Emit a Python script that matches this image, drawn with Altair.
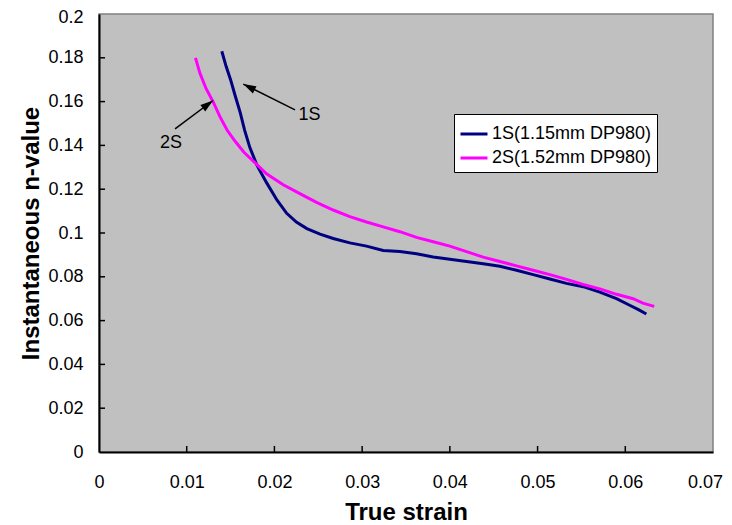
import altair as alt
import pandas as pd

# ---- data ----
s1_name = "1S(1.15mm DP980)"
s1_x = [0.0140, 0.0145, 0.0150, 0.0155, 0.0161, 0.0166, 0.0172, 0.0180, 0.0191, 0.0203,
        0.0214, 0.0225, 0.0237, 0.0252, 0.0267, 0.0286, 0.0305, 0.0324, 0.0343, 0.0362,
        0.0381, 0.0400, 0.0419, 0.0438, 0.0457, 0.0476, 0.0495, 0.0514, 0.0533, 0.0552,
        0.0571, 0.0590, 0.0605, 0.0615, 0.0624]
s1_y = [0.183, 0.176, 0.170, 0.163, 0.155, 0.147, 0.139, 0.131, 0.123, 0.115,
        0.109, 0.105, 0.102, 0.0995, 0.0975, 0.0955, 0.094, 0.092, 0.0915, 0.0905,
        0.089, 0.088, 0.087, 0.086, 0.0848, 0.083, 0.081, 0.079, 0.077, 0.0755,
        0.073, 0.070, 0.067, 0.065, 0.063]

s2_name = "2S(1.52mm DP980)"
s2_x = [0.0110, 0.0115, 0.0122, 0.0130, 0.0138, 0.0146, 0.0155, 0.0165, 0.0178, 0.0191,
        0.0210, 0.0229, 0.0248, 0.0267, 0.0286, 0.0305, 0.0324, 0.0343, 0.0362, 0.0381,
        0.0400, 0.0419, 0.0438, 0.0457, 0.0476, 0.0495, 0.0514, 0.0533, 0.0552, 0.0571,
        0.0590, 0.0609, 0.0620, 0.0633]
s2_y = [0.180, 0.173, 0.166, 0.160, 0.153, 0.147, 0.142, 0.137, 0.132, 0.127,
        0.122, 0.118, 0.114, 0.1105, 0.1075, 0.105, 0.1028, 0.1006, 0.098, 0.096,
        0.094, 0.0915, 0.089, 0.087, 0.085, 0.083, 0.081, 0.0788, 0.0765, 0.0745,
        0.072, 0.070, 0.068, 0.0665]

x_ticks = [0, 0.01, 0.02, 0.03, 0.04, 0.05, 0.06, 0.07]
y_ticks = [0, 0.02, 0.04, 0.06, 0.08, 0.1, 0.12, 0.14, 0.16, 0.18, 0.2]

# annotations (data coordinates): label position, arrow tail, arrow tip
ann_label = ["1S", "2S"]
ann_text_x = [0.0240, 0.0082]
ann_text_y = [0.1539, 0.1410]
ann_tail_x = [0.02235, 0.00867]
ann_tail_y = [0.1562, 0.1475]
ann_head_x = [0.01645, 0.01300]
ann_head_y = [0.1680, 0.1605]
ann_angle = [297, 53]

colors = ["#000080", "#FF00FF"]
FONT = "Liberation Sans"
W, H = 614, 438
TICK_FS = 18
TITLE_FS = 24
ARROW_PATH = "M0,0L0.5,1.6L-0.5,1.6Z"

df = pd.concat([
    pd.DataFrame({"x": s1_x, "y": s1_y, "series": s1_name, "i": range(len(s1_x))}),
    pd.DataFrame({"x": s2_x, "y": s2_y, "series": s2_name, "i": range(len(s2_x))}),
])
ann = pd.DataFrame({"label": ann_label, "tx": ann_text_x, "ty": ann_text_y,
                    "x0": ann_tail_x, "y0": ann_tail_y,
                    "x1": ann_head_x, "y1": ann_head_y, "angle": ann_angle})
xt = pd.DataFrame({"v": x_ticks[1:-1]})
yt = pd.DataFrame({"v": y_ticks[1:-1]})

xscale = alt.Scale(domain=[0, 0.07], nice=False, zero=False)
yscale = alt.Scale(domain=[0, 0.2], nice=False, zero=False)

xaxis = alt.Axis(values=x_ticks, labelExpr="format(datum.value, '~g')", ticks=False,
                 grid=False, domainColor="black", domainWidth=2, labelFontSize=TICK_FS,
                 labelFont=FONT, labelColor="black", labelPadding=21, title="True strain",
                 titleFont=FONT, titleFontSize=TITLE_FS, titleFontWeight="bold",
                 titleColor="black", titlePadding=9, labelFlush=False,
                 labelOffset={"condition": {"test": "datum.value > 0.069", "value": -8},
                              "value": 0})
yaxis = alt.Axis(values=y_ticks, labelExpr="format(datum.value, '~g')", ticks=False,
                 grid=False, domainColor="black", domainWidth=2, labelFontSize=TICK_FS,
                 labelFont=FONT, labelColor="black", labelPadding=16,
                 title="Instantaneous n-value", titleFont=FONT, titleFontSize=TITLE_FS,
                 titleFontWeight="bold", titleColor="black", titlePadding=4,
                 labelFlush=False,
                 labelOffset={"condition": {"test": "datum.value > 0.19", "value": 3},
                              "value": 0})

lines = alt.Chart(df).mark_line(strokeWidth=3).encode(
    x=alt.X("x:Q", scale=xscale, axis=xaxis),
    y=alt.Y("y:Q", scale=yscale, axis=yaxis),
    color=alt.Color("series:N",
                    scale=alt.Scale(domain=[s1_name, s2_name], range=colors),
                    legend=alt.Legend(title=None, orient="none", legendX=355, legendY=100,
                                      fillColor="white", strokeColor="black",
                                      padding=5, symbolType="stroke", symbolSize=729,
                                      symbolStrokeWidth=3, labelFont=FONT,
                                      labelFontSize=18, labelColor="black",
                                      rowPadding=0, labelOffset=3)),
    order="i:Q",
)

xticks = alt.Chart(xt).mark_rule(color="black", strokeWidth=1.5).encode(
    x=alt.X("v:Q", scale=xscale), y=alt.value(H), y2=alt.value(H - 6))
yticks = alt.Chart(yt).mark_rule(color="black", strokeWidth=1.5).encode(
    y=alt.Y("v:Q", scale=yscale), x=alt.value(0), x2=alt.value(6))

arrows = alt.Chart(ann).mark_rule(color="black", strokeWidth=1.5).encode(
    x=alt.X("x0:Q", scale=xscale), y=alt.Y("y0:Q", scale=yscale),
    x2="x1:Q", y2="y1:Q")
heads = alt.Chart(ann).mark_point(shape=ARROW_PATH, filled=True, color="black",
                                  size=256, opacity=1).encode(
    x=alt.X("x1:Q", scale=xscale), y=alt.Y("y1:Q", scale=yscale),
    angle=alt.Angle("angle:Q", scale=None))
texts = alt.Chart(ann).mark_text(font=FONT, fontSize=18, color="black").encode(
    x=alt.X("tx:Q", scale=xscale), y=alt.Y("ty:Q", scale=yscale), text="label:N")

chart = alt.layer(lines, xticks, yticks, arrows, heads, texts).properties(
    width=W, height=H,
    autosize=alt.AutoSizeParams(type="none"),
    padding={"left": 91, "top": 6, "right": 10, "bottom": 75},
    background="white",
).configure_view(fill="#C0C0C0", stroke="#808080", strokeWidth=1.5)

chart.save("out.html", embed_options={"renderer": "svg", "actions": False})
